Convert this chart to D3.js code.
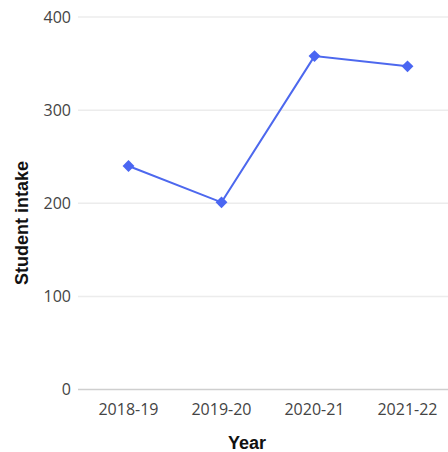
<!DOCTYPE html>
<html><head><meta charset="utf-8">
<script src="https://cdn.jsdelivr.net/npm/d3@7"></script>
<style>
html,body{margin:0;padding:0;background:#fff;}
svg{display:block;}
</style></head>
<body>
<svg id="c" width="448" height="452"></svg>
<script>
const years = ["2018-19", "2019-20", "2020-21", "2021-22"];
const intake = [240, 201, 358, 347];
const yTicks = [0, 100, 200, 300, 400];

const svg = d3.select("#c");
const x = d3.scalePoint().domain(years).range([82, 454]).padding(0.5);
const y = d3.scaleLinear().domain([0, 400]).range([389.5, 17]);

// gridlines
svg.append("g").selectAll("line").data(yTicks).join("line")
  .attr("x1", 78).attr("x2", 448)
  .attr("y1", d => y(d)).attr("y2", d => y(d))
  .attr("stroke", d => d === 0 ? "#cfcfcf" : "#ececec")
  .attr("stroke-width", 1.5);

// y tick labels
svg.append("g").selectAll("text").data(yTicks).join("text")
  .attr("x", 71).attr("y", d => y(d)).attr("dy", "0.35em")
  .attr("text-anchor", "end")
  .attr("font-family", "Open Sans, sans-serif").attr("font-size", 16)
  .attr("fill", "#444").text(d => d);

// x tick labels
svg.append("g").selectAll("text").data(years).join("text")
  .attr("x", d => x(d)).attr("y", 409).attr("dy", "0.35em")
  .attr("text-anchor", "middle")
  .attr("font-family", "Open Sans, sans-serif").attr("font-size", 16)
  .attr("fill", "#444").text(d => d);

// axis titles
svg.append("text").attr("x", 247).attr("y", 449)
  .attr("text-anchor", "middle")
  .attr("font-family", "Liberation Sans, Arial, sans-serif").attr("font-weight", "bold")
  .attr("font-size", 18).attr("fill", "#111").text("Year");
svg.append("text")
  .attr("transform", "translate(28,223) rotate(-90)")
  .attr("text-anchor", "middle")
  .attr("font-family", "Liberation Sans, Arial, sans-serif").attr("font-weight", "bold")
  .attr("font-size", 18).attr("fill", "#111").text("Student intake");

const data = years.map((yr, i) => ({yr, v: intake[i]}));
svg.append("path").datum(data)
  .attr("fill", "none").attr("stroke", "#4d68ee").attr("stroke-width", 2)
  .attr("d", d3.line().x(d => x(d.yr)).y(d => y(d.v)));

svg.append("g").selectAll("path").data(data).join("path")
  .attr("d", d3.symbol().type(d3.symbolDiamond2).size(90))
  .attr("transform", d => `translate(${x(d.yr)},${y(d.v)})`)
  .attr("fill", "#4a66f2");
</script>
</body></html>
